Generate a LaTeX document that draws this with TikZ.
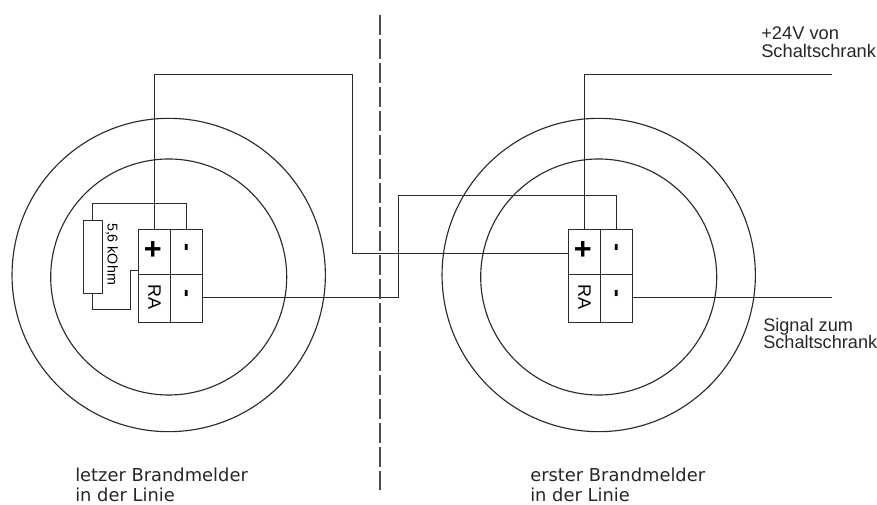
\documentclass[tikz,border=0pt]{standalone}
\usepackage{fontspec}
\setmainfont{Liberation Sans}
\newfontfamily\verdfont{DejaVu Sans}
\definecolor{wirecol}{HTML}{2B2B2B}
\tikzset{
  wire/.style={draw=wirecol, line width=0.85pt},
  ring/.style={wire, circle, inner sep=0pt},
  cell/.style={wire, rectangle, inner sep=0pt, minimum width=24.2pt},
  topcell/.style={cell, minimum height=34pt},
  botcell/.style={cell, minimum height=35.7pt},
  signtext/.style={font=\fontsize{18}{18}\selectfont\bfseries, inner sep=0pt},
  sidetext/.style={align=left, anchor=north west, inner sep=0pt, text=black!85},
  basetext/.style={font=\verdfont\fontsize{13.4}{14.6}\selectfont, align=left, anchor=north west, inner sep=0pt, text=black!85}
}
\begin{document}
\begin{tikzpicture}[x=0.75pt, y=-0.75pt]
  \useasboundingbox (0,0) rectangle (877,505);

  % both detectors
  \foreach \xo/\sfx in {0/L, 430/R} {
    \node[ring, minimum size=235pt] (outer\sfx) at (168.7+\xo,275) {};
    \node[ring, minimum size=177pt] (inner\sfx) at (168.7+\xo,277) {};
    \node[topcell] (plus\sfx) at (154.5+\xo,252) {};
    \node[topcell] (minA\sfx) at (186.7+\xo,252) {};
    \node[botcell] (ra\sfx) at (154.5+\xo,298.5) {};
    \node[botcell] (minB\sfx) at (186.7+\xo,298.5) {};
    \node[signtext, font=\fontsize{23}{23}\selectfont\bfseries] (plusT\sfx) at (152.8+\xo,251) {+};
    \node[signtext, rotate=-90] (minAT\sfx) at (184+\xo,247) {-};
    \node[signtext, rotate=-90] (minBT\sfx) at (184+\xo,293) {-};
    \node[rotate=-90, inner sep=0pt, font=\fontsize{13.5}{13.5}\selectfont] (raT\sfx) at (154.5+\xo,297) {RA};
  }

  % resistor
  \node[wire, rectangle, inner sep=0pt, minimum width=14.5pt, minimum height=55.3pt] (res) at (92.8,257) {};
  \node[rotate=-90, inner sep=0pt, font=\fontsize{10.7}{10.7}\selectfont] (resT) at (112,254) {5,6 kOhm};

  \coordinate (resTop) at (92.8,203.5);
  \coordinate (resBot) at (92.8,309.5);
  \coordinate (raTop) at (130.5,270.5);
  \draw[wire] (minAL.north) |- (resTop) -- (res.north);
  \draw[wire] (res.south) -- (resBot) -| (raTop) -- (plusL.west |- raTop);

  % line between the detectors
  \coordinate (topL) at (352.5,74.5);
  \coordinate (midL) at (352.5,253.5);
  \coordinate (linkL) at (398.5,195.5);
  \coordinate (feedEnd) at (832,74.5);
  \coordinate (sigEnd) at (832,297.5);
  \draw[wire] (plusL.north) |- (topL) -- (midL) -- (plusR.west |- midL);
  \draw[wire] (minBL.east |- sigEnd) -| (linkL) -| (minAR.north);
  \draw[wire] (plusR.north) |- (feedEnd);
  \draw[wire] (minBR.east |- sigEnd) -- (sigEnd);

  % divider
  \coordinate (divTop) at (380,15);
  \coordinate (divBot) at (380,490);
  \draw[draw=black!70, line width=1.1pt, dash pattern=on 15pt off 3pt] (divTop) -- (divBot);

  \node[sidetext, font=\fontsize{13.7}{14.2}\selectfont] (feedT) at (761,26) {+24V von\\Schaltschrank};
  \node[sidetext, font=\fontsize{13.6}{13.1}\selectfont] (sigT) at (763,318) {Signal zum\\Schaltschrank};
  \node[basetext] (lastT) at (75,468) {letzer Brandmelder\\in der Linie};
  \node[basetext] (firstT) at (530,468) {erster Brandmelder\\in der Linie};
\end{tikzpicture}
\end{document}
